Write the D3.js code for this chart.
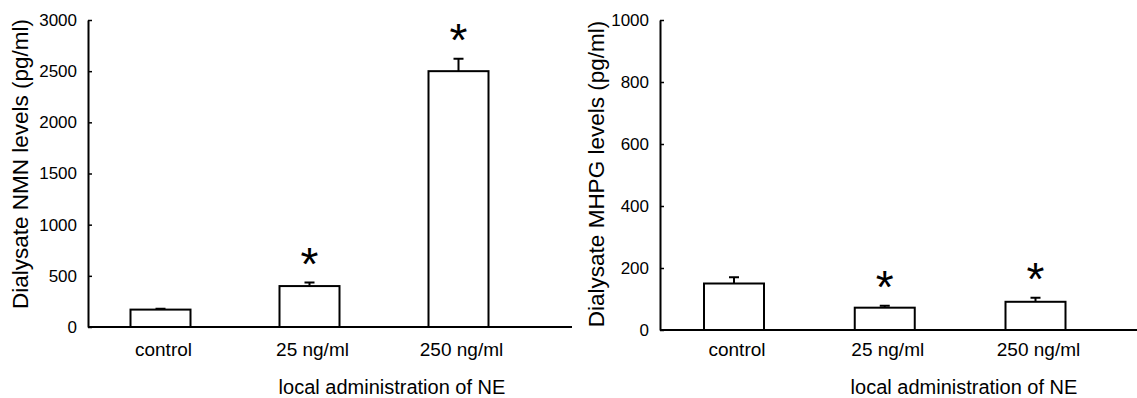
<!DOCTYPE html>
<html lang="en">
<head>
    <meta charset="UTF-8">
    <title>NMN / MHPG bar charts</title>
    <script src="https://d3js.org/d3.v7.min.js"></script>
    <style>
        body { margin: 0; background: white; }
        text { font-family: "Liberation Sans", Arial, sans-serif; fill: black; }
    </style>
</head>
<body>
    <svg width="1137" height="398"></svg>

    <script>
        // groups (shared by both panels)
        const groups = ["control", "25 ng/ml", "250 ng/ml"];
        const xTitle = "local administration of NE";

        // left panel: NMN
        const nmnMean = [170, 400, 2500];
        const nmnErr = [8, 34, 122];
        const nmnStar = [false, true, true];
        const nmnTicks = [0, 500, 1000, 1500, 2000, 2500, 3000];

        // right panel: MHPG
        const mhpgMean = [150, 72, 91];
        const mhpgErr = [20, 6, 13];
        const mhpgStar = [false, true, true];
        const mhpgTicks = [0, 200, 400, 600, 800, 1000];

        const svg = d3.select("svg");

        function drawPanel(opt) {
            const data = groups.map((g, i) => ({
                group: g, mean: opt.mean[i], err: opt.err[i], star: opt.star[i]
            }));

            const y = d3.scaleLinear().domain(opt.domain).range([opt.y0, opt.y1]);
            const x = d3.scalePoint().domain(groups).range(opt.xRange);
            const barW = 60;

            // y축 (ticks inward)
            const yAxis = svg.append("g")
                .attr("transform", `translate(${opt.axisX},0)`)
                .call(d3.axisLeft(y).tickValues(opt.ticks).tickFormat(d3.format("d"))
                    .tickSizeInner(-4).tickSizeOuter(0).tickPadding(11));
            yAxis.select(".domain").attr("stroke", "black").attr("stroke-width", 2);
            yAxis.selectAll(".tick line").attr("stroke", "black").attr("stroke-width", 1.5);
            yAxis.selectAll(".tick text")
                .style("font-family", "Liberation Sans, Arial, sans-serif")
                .style("font-size", "17px")
                .attr("fill", "black");

            // x축 line
            svg.append("line")
                .attr("x1", opt.axisX).attr("x2", opt.axisEnd)
                .attr("y1", y(0)).attr("y2", y(0))
                .attr("stroke", "black").attr("stroke-width", 2);

            // error bars (upper only)
            svg.selectAll(null).data(data).enter().append("path")
                .attr("d", d => {
                    const cx = x(d.group);
                    const top = y(d.mean + d.err);
                    return `M${cx},${y(d.mean)}V${top}M${cx - 5},${top}H${cx + 5}`;
                })
                .attr("fill", "none").attr("stroke", "black").attr("stroke-width", 2);

            // bars
            svg.selectAll(null).data(data).enter().append("rect")
                .attr("x", d => x(d.group) - barW / 2)
                .attr("y", d => y(d.mean))
                .attr("width", barW)
                .attr("height", d => y(0) - y(d.mean))
                .attr("fill", "white").attr("stroke", "black").attr("stroke-width", 2);

            // significance asterisks
            svg.selectAll(null).data(data.filter(d => d.star)).enter().append("text")
                .attr("x", d => x(d.group))
                .attr("y", d => y(d.mean + d.err) - 3)
                .attr("text-anchor", "middle")
                .style("font-size", "46px")
                .text("*");

            // group labels
            svg.selectAll(null).data(groups).enter().append("text")
                .attr("x", d => x(d) + 3)
                .attr("y", 356)
                .attr("text-anchor", "middle")
                .style("font-size", "19px")
                .text(d => d);

            // x축 title
            svg.append("text")
                .attr("x", opt.xTitleX)
                .attr("y", 394)
                .attr("text-anchor", "middle")
                .style("font-size", "20px")
                .text(xTitle);

            // y축 title
            svg.append("text")
                .attr("transform", "rotate(-90)")
                .attr("x", -opt.yTitleY)
                .attr("y", opt.yTitleX)
                .attr("text-anchor", "middle")
                .style("font-size", "22.5px")
                .text(opt.yTitle);
        }

        drawPanel({
            mean: nmnMean, err: nmnErr, star: nmnStar, ticks: nmnTicks,
            domain: [0, 3000], y0: 327, y1: 20,
            axisX: 88, axisEnd: 572, xRange: [160.5, 458.5],
            xTitleX: 392, yTitle: "Dialysate NMN levels (pg/ml)", yTitleX: 28, yTitleY: 164
        });

        drawPanel({
            mean: mhpgMean, err: mhpgErr, star: mhpgStar, ticks: mhpgTicks,
            domain: [0, 1000], y0: 330, y1: 20,
            axisX: 660, axisEnd: 1137, xRange: [734, 1035.5],
            xTitleX: 964, yTitle: "Dialysate MHPG levels (pg/ml)", yTitleX: 604, yTitleY: 174
        });
    </script>
</body>
</html>
